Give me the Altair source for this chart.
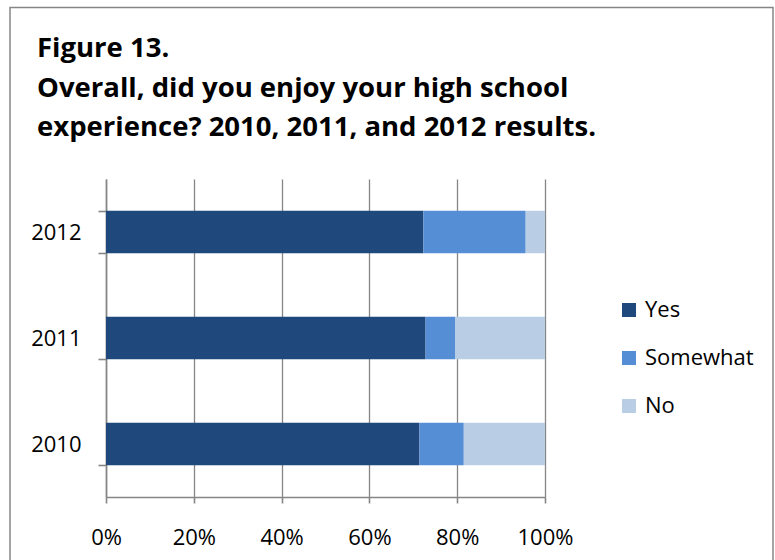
import altair as alt
import pandas as pd

years = ["2012", "2011", "2010"]
answers = ["Yes", "Somewhat", "No"]
yes_vals = [72.3, 72.8, 71.4]
somewhat_vals = [23.3, 6.8, 10.1]
no_vals = [4.4, 20.4, 18.5]
colors = ["#1F497D", "#558ED5", "#B9CDE5"]
x_ticks = [0, 0.2, 0.4, 0.6, 0.8, 1.0]
title_lines = [
    "Figure 13.",
    "Overall, did you enjoy your high school",
    "experience? 2010, 2011, and 2012 results.",
]

rows = []
for i, y in enumerate(years):
    for j, (a, vals) in enumerate(zip(answers, [yes_vals, somewhat_vals, no_vals])):
        rows.append({"year": y, "answer": a, "value": vals[i], "idx": j})
df = pd.DataFrame(rows)

FONT = "Open Sans"
GRAY = "#868686"

bars = alt.Chart(df).mark_bar().encode(
    x=alt.X(
        "value:Q",
        stack="normalize",
        scale=alt.Scale(domain=[0, 1], nice=False),
        axis=alt.Axis(
            format=".0%", values=x_ticks, title=None, grid=True,
            gridColor=GRAY, gridWidth=1.3, domainColor=GRAY, domainWidth=1.6,
            tickColor=GRAY, tickWidth=1.6, tickSize=6,
            labelFont=FONT, labelFontSize=22, labelColor="#000000",
            labelPadding=24, labelFlush=False,
        ),
    ),
    y=alt.Y(
        "year:N",
        sort=years,
        scale=alt.Scale(paddingInner=0.6, paddingOuter=0.3),
        axis=alt.Axis(
            title=None, tickBand="extent", domainColor=GRAY, domainWidth=1.6,
            tickColor=GRAY, tickWidth=1.6, tickSize=8,
            labelFont=FONT, labelFontSize=22, labelColor="#000000",
            labelPadding=17,
        ),
    ),
    color=alt.Color(
        "answer:N",
        scale=alt.Scale(domain=answers, range=colors),
        legend=alt.Legend(
            title=None, orient="none", legendX=512, legendY=120, padding=0,
            symbolType="square", symbolSize=196, symbolStrokeWidth=0,
            symbolOpacity=1, labelFont=FONT, labelFontSize=22,
            labelColor="#000000", labelOffset=5, rowPadding=26,
        ),
    ),
    order=alt.Order("idx:Q"),
)

border = alt.Chart(pd.DataFrame({"b": [0]})).mark_rect(
    fillOpacity=0, stroke=GRAY, strokeWidth=1.5
).encode(
    x=alt.value(-96),
    x2=alt.value(667),
    y=alt.value(-171.5),
    y2=alt.value(420),
)

chart = alt.layer(border, bars).properties(
    width=439,
    height=318,
    title=alt.Title(
        title_lines, anchor="start", frame="group", font=FONT,
        fontSize=27.5, fontWeight="bold", color="#000000", lineHeight=39.5,
        dx=-69, dy=135, offset=0,
    ),
    autosize=alt.AutoSizeParams(type="none"),
    padding={"left": 106, "top": 179, "right": 230, "bottom": 63},
).configure_view(strokeWidth=0)

chart.save("out.html", embed_options={"renderer": "svg", "actions": False})
